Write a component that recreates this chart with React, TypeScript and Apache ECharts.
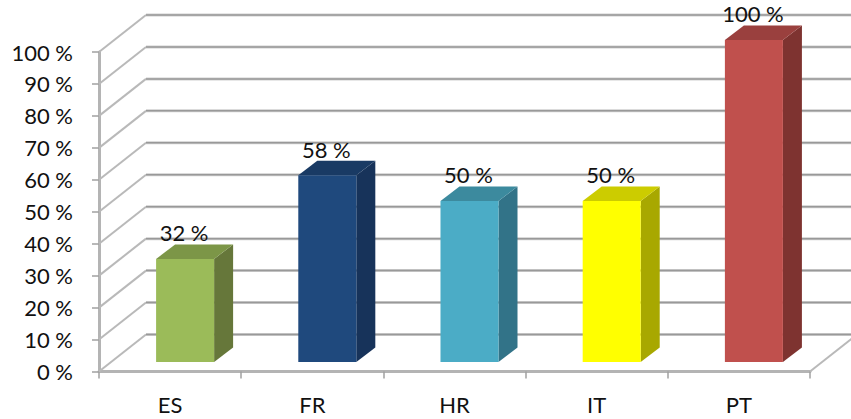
import React, { useEffect, useRef } from "react";
import * as echarts from "echarts";

const categories = ["ES", "FR", "HR", "IT", "PT"];
const percentValues = [32, 58, 50, 50, 100];
const axisTicks = [0, 10, 20, 30, 40, 50, 60, 70, 80, 90, 100];

const frontColors = ["#9BBB59", "#1F497D", "#4BACC6", "#FFFF00", "#C0504D"];
const topColors = ["#7C9647", "#193A64", "#3C8A9E", "#CCCC00", "#9A403E"];
const sideColors = ["#66773A", "#17335A", "#327388", "#A8A800", "#7E3330"];

const WALL_DX = 47;
const WALL_DY = -37;
const BAR_SHIFT_X = 15;
const BAR_SHIFT_Y = -9.5;
const BAR_DX = 19;
const BAR_DY = -14.5;
const BAR_HEIGHT_SCALE = 1.008;
const FONT = "Lato, 'Open Sans', sans-serif";

function App() {
  const ref = useRef<HTMLDivElement>(null);
  useEffect(() => {
    document.body.style.margin = "0";
    const chart = echarts.init(ref.current!, null, { renderer: "svg" });
    chart.setOption({
      animation: false,
      backgroundColor: "#ffffff",
      grid: { left: 99, right: 41, top: 52, bottom: 47.5 },
      xAxis: {
        type: "category",
        data: categories,
        axisLine: { lineStyle: { color: "#b4b4b4", width: 3 } },
        axisTick: { show: true, length: 7, lineStyle: { color: "#a0a0a0", width: 1.5 } },
        axisLabel: { color: "#111111", fontFamily: FONT, fontSize: 22, margin: 22 },
      },
      yAxis: {
        type: "value",
        min: 0,
        max: 100,
        interval: 10,
        splitLine: { show: false },
        axisLine: { show: true, lineStyle: { color: "#b4b4b4", width: 3 } },
        axisTick: { show: true, length: 7, lineStyle: { color: "#a0a0a0", width: 1.5 } },
        axisLabel: {
          color: "#111111",
          fontFamily: FONT,
          fontSize: 22,
          margin: 26,
          formatter: "{value} %",
        },
      },
      series: [
        {
          type: "custom",
          z: 1,
          silent: true,
          coordinateSystem: "cartesian2d",
          data: axisTicks.map((t) => [0, t]),
          renderItem: (params: any, api: any) => {
            const cs = params.coordSys;
            const y = api.coord([0, api.value(1)])[1];
            const x0 = cs.x;
            const x1 = cs.x + cs.width;
            const children: any[] = [
              {
                type: "line",
                shape: { x1: x0, y1: y, x2: x0 + WALL_DX, y2: y + WALL_DY },
                style: { stroke: "#b9b9b9", lineWidth: 2 },
              },
              {
                type: "line",
                shape: { x1: x0 + WALL_DX, y1: y + WALL_DY, x2: x1 + WALL_DX, y2: y + WALL_DY },
                style: { stroke: "#cfcfcf", lineWidth: 3 },
              },
              {
                type: "line",
                shape: { x1: x0 + WALL_DX, y1: y + WALL_DY, x2: x1 + WALL_DX, y2: y + WALL_DY },
                style: { stroke: "#999999", lineWidth: 1.5 },
              },
            ];
            if (api.value(1) === 0) {
              children.push({
                type: "line",
                shape: { x1, y1: y, x2: x1 + WALL_DX, y2: y + WALL_DY },
                style: { stroke: "#b9b9b9", lineWidth: 2 },
              });
            }
            return { type: "group", children };
          },
        },
        {
          type: "custom",
          z: 3,
          silent: true,
          coordinateSystem: "cartesian2d",
          data: percentValues.map((v, i) => [i, v]),
          renderItem: (params: any, api: any) => {
            const i = api.value(0);
            const v = api.value(1);
            const top = api.coord([i, v]);
            const base = api.coord([i, 0]);
            const w = api.size([1, 0])[0] * 0.408;
            const l = top[0] - w / 2 + BAR_SHIFT_X;
            const r = l + w;
            const b = base[1] + BAR_SHIFT_Y;
            const t = b - (base[1] - top[1]) * BAR_HEIGHT_SCALE;
            const face = (pts: number[][], fill: string) => ({
              type: "polygon",
              shape: { points: pts },
              style: { fill },
            });
            return {
              type: "group",
              children: [
                face(
                  [
                    [r, t],
                    [r + BAR_DX, t + BAR_DY],
                    [r + BAR_DX, b + BAR_DY],
                    [r, b],
                  ],
                  sideColors[i]
                ),
                face(
                  [
                    [l, t],
                    [l + BAR_DX, t + BAR_DY],
                    [r + BAR_DX, t + BAR_DY],
                    [r, t],
                  ],
                  topColors[i]
                ),
                face(
                  [
                    [l, t],
                    [r, t],
                    [r, b],
                    [l, b],
                  ],
                  frontColors[i]
                ),
                {
                  type: "text",
                  x: (l + r) / 2 - 1,
                  y: t - 26,
                  style: {
                    text: v + " %",
                    fill: "#111111",
                    font: "22px " + FONT,
                    textAlign: "center",
                    textVerticalAlign: "middle",
                  },
                },
              ],
            };
          },
        },
      ],
    });
    return () => chart.dispose();
  }, []);
  return <div ref={ref} style={{ width: 851, height: 419 }} />;
}

export default App;
